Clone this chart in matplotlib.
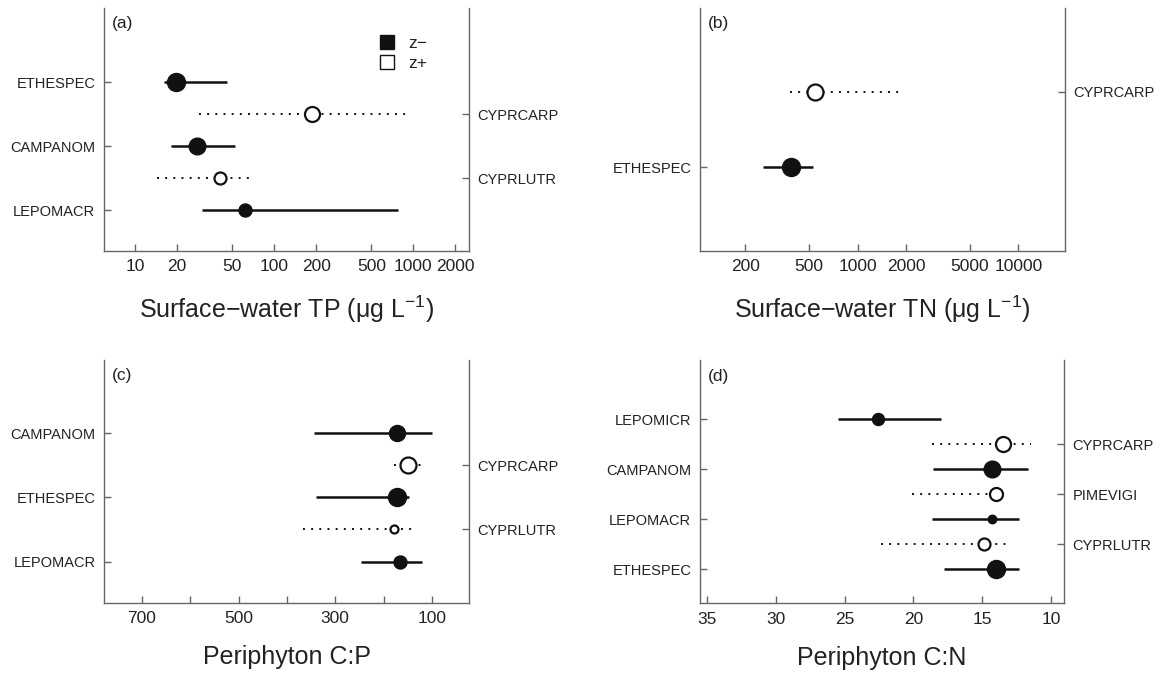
import matplotlib
matplotlib.use("Agg")
import matplotlib.pyplot as plt
from matplotlib.lines import Line2D

plt.rcParams['font.family'] = ['Liberation Sans', 'DejaVu Sans']
plt.rcParams['mathtext.fontset'] = 'custom'
plt.rcParams['mathtext.rm'] = 'Liberation Sans'
plt.rcParams['mathtext.it'] = 'Liberation Sans:italic'

# ---------------- data ----------------
# Panel (a): Surface-water TP
a_species = ["LEPOMACR", "CYPRLUTR", "CAMPANOM", "CYPRCARP", "ETHESPEC"]
a_group = ["z-", "z+", "z-", "z+", "z-"]
a_pos = [1, 1.5, 2, 2.5, 3]
a_val = [62, 40.5, 28, 187, 19.7]
a_lo = [30, 14.3, 18, 28.5, 16]
a_hi = [776, 66, 52, 925, 45.7]
a_size = [13, 14, 16.7, 17, 18]

# Panel (b): Surface-water TN
b_species = ["ETHESPEC", "CYPRCARP"]
b_group = ["z-", "z+"]
b_pos = [1, 1.5]
b_val = [385, 546]
b_lo = [260, 381]
b_hi = [528, 1910]
b_size = [18, 18]

# Panel (c): Periphyton C:P
c_species = ["LEPOMACR", "CYPRLUTR", "ETHESPEC", "CYPRCARP", "CAMPANOM"]
c_group = ["z-", "z+", "z-", "z+", "z-"]
c_pos = [1, 1.5, 2, 2.5, 3]
c_val = [167, 179, 172, 149, 172]
c_lo = [246, 367, 339, 179, 343]
c_hi = [121, 134, 148, 121, 100]
c_size = [13, 10, 18, 18, 16]

# Panel (d): Periphyton C:N
d_species = ["ETHESPEC", "CYPRLUTR", "LEPOMACR", "PIMEVIGI", "CAMPANOM", "CYPRCARP", "LEPOMICR"]
d_group = ["z-", "z+", "z-", "z+", "z-", "z+", "z-"]
d_pos = [1, 1.5, 2, 2.5, 3, 3.5, 4]
d_val = [13.96, 14.85, 14.32, 13.96, 14.32, 13.48, 22.6]
d_lo = [17.76, 22.35, 18.63, 20.07, 18.6, 18.63, 25.44]
d_hi = [12.34, 13.19, 12.34, 12.99, 11.66, 11.42, 18.01]
d_size = [18, 14, 8.5, 15, 16.7, 17, 12]

a_ticks = [10, 20, 50, 100, 200, 500, 1000, 2000]
b_ticks = [200, 500, 1000, 2000, 5000, 10000]
c_ticks = [700, 600, 500, 400, 300, 200, 100]
c_ticklabels = ["700", "", "500", "", "300", "", "100"]
d_ticks = [35, 30, 25, 20, 15, 10]

legend_labels = ["z\u2212", "z+"]

# ---------------- figure ----------------
W, H = 1166, 677
fig = plt.figure(figsize=(W / 100, H / 100), dpi=100)
spine_col = "#666666"
text_col = "#222222"
px2pt = 0.72


def make_ax(rect):
    ax = fig.add_axes(rect)
    for s in ["left", "right", "bottom"]:
        ax.spines[s].set_color(spine_col)
        ax.spines[s].set_linewidth(1.0)
    ax.spines["top"].set_visible(False)
    return ax


def draw_panel(ax, species, group, pos, val, lo, hi, size, xlabel, letter,
               xlim, ylim, logx=False, xticks=None, xticklabels=None):
    if logx:
        ax.set_xscale("log")
    for sp, g, p, v, l, h, s in zip(species, group, pos, val, lo, hi, size):
        if g == "z-":
            ax.plot([l, h], [p, p], color="#111111", lw=1.8, solid_capstyle="butt", zorder=2)
            ax.plot([v], [p], "o", ms=s * px2pt, mfc="#111111", mec="#111111", mew=1.0, zorder=3)
        else:
            ax.plot([l, h], [p, p], color="#111111", lw=1.4, linestyle=(0, (1, 3.2)), zorder=2)
            ax.plot([v], [p], "o", ms=(s - 2) * px2pt, mfc="white", mec="#111111", mew=1.6, zorder=3)
    ax.set_xlim(*xlim)
    ax.set_ylim(*ylim)
    ax.set_xticks(xticks)
    ax.set_xticklabels(xticklabels if xticklabels is not None else [str(t) for t in xticks])
    ax.xaxis.set_minor_locator(matplotlib.ticker.NullLocator())
    ax.tick_params(axis="x", direction="in", length=5, width=1, color=spine_col,
                   labelsize=12.5, labelcolor=text_col, pad=6)
    lpos = [p for p, g in zip(pos, group) if g == "z-"]
    lnames = [n for n, g in zip(species, group) if g == "z-"]
    rpos = [p for p, g in zip(pos, group) if g == "z+"]
    rnames = [n for n, g in zip(species, group) if g == "z+"]
    ax.set_yticks(lpos)
    ax.set_yticklabels(lnames)
    ax.tick_params(axis="y", direction="in", length=5, width=1, color=spine_col,
                   labelsize=10.5, labelcolor=text_col, pad=6)
    ax2 = ax.twinx()
    ax2.set_ylim(*ylim)
    ax2.set_yticks(rpos)
    ax2.set_yticklabels(rnames)
    ax2.tick_params(axis="y", direction="in", length=5, width=1, color=spine_col,
                    labelsize=10.5, labelcolor=text_col, pad=6)
    for s in ax2.spines.values():
        s.set_visible(False)
    ax.set_xlabel(xlabel, fontsize=18, color=text_col, labelpad=14)
    ax.text(0.022, 0.965, letter, transform=ax.transAxes, fontsize=12.5,
            color=text_col, va="top", ha="left")
    return ax


ax_a = make_ax([103.5 / W, 1 - 250.7 / H, 365 / W, 243 / H])
draw_panel(ax_a, a_species, a_group, a_pos, a_val, a_lo, a_hi, a_size,
           "Surface\u2212water TP (\u03bcg L$^{-1}$)", "(a)",
           xlim=(5.9, 2500), ylim=(0.364, 4.17), logx=True, xticks=a_ticks)

ax_b = make_ax([699.5 / W, 1 - 250.7 / H, 365.5 / W, 243 / H])
draw_panel(ax_b, b_species, b_group, b_pos, b_val, b_lo, b_hi, b_size,
           "Surface\u2212water TN (\u03bcg L$^{-1}$)", "(b)",
           xlim=(104, 19500), ylim=(0.445, 2.058), logx=True, xticks=b_ticks)

ax_c = make_ax([104 / W, 1 - 602.7 / H, 365.3 / W, 242.7 / H])
draw_panel(ax_c, c_species, c_group, c_pos, c_val, c_lo, c_hi, c_size,
           "Periphyton C:P", "(c)",
           xlim=(778, 23), ylim=(0.362, 4.135), xticks=c_ticks, xticklabels=c_ticklabels)

ax_d = make_ax([699.5 / W, 1 - 603.3 / H, 364.8 / W, 243.3 / H])
draw_panel(ax_d, d_species, d_group, d_pos, d_val, d_lo, d_hi, d_size,
           "Periphyton C:N", "(d)",
           xlim=(35.54, 9.03), ylim=(0.314, 5.186), xticks=d_ticks)

# legend in panel (a)
handles = [Line2D([], [], marker="s", ls="none", ms=10, mfc="#111111", mec="#111111"),
           Line2D([], [], marker="s", ls="none", ms=10, mfc="white", mec="#111111", mew=1.0)]
ax_a.legend(handles, legend_labels, loc="upper left", bbox_to_anchor=(0.71, 0.95),
            frameon=False, fontsize=12.5, handlelength=1.0, handletextpad=0.7,
            labelspacing=0.3, labelcolor=text_col)

fig.savefig("out.png", dpi=100)
